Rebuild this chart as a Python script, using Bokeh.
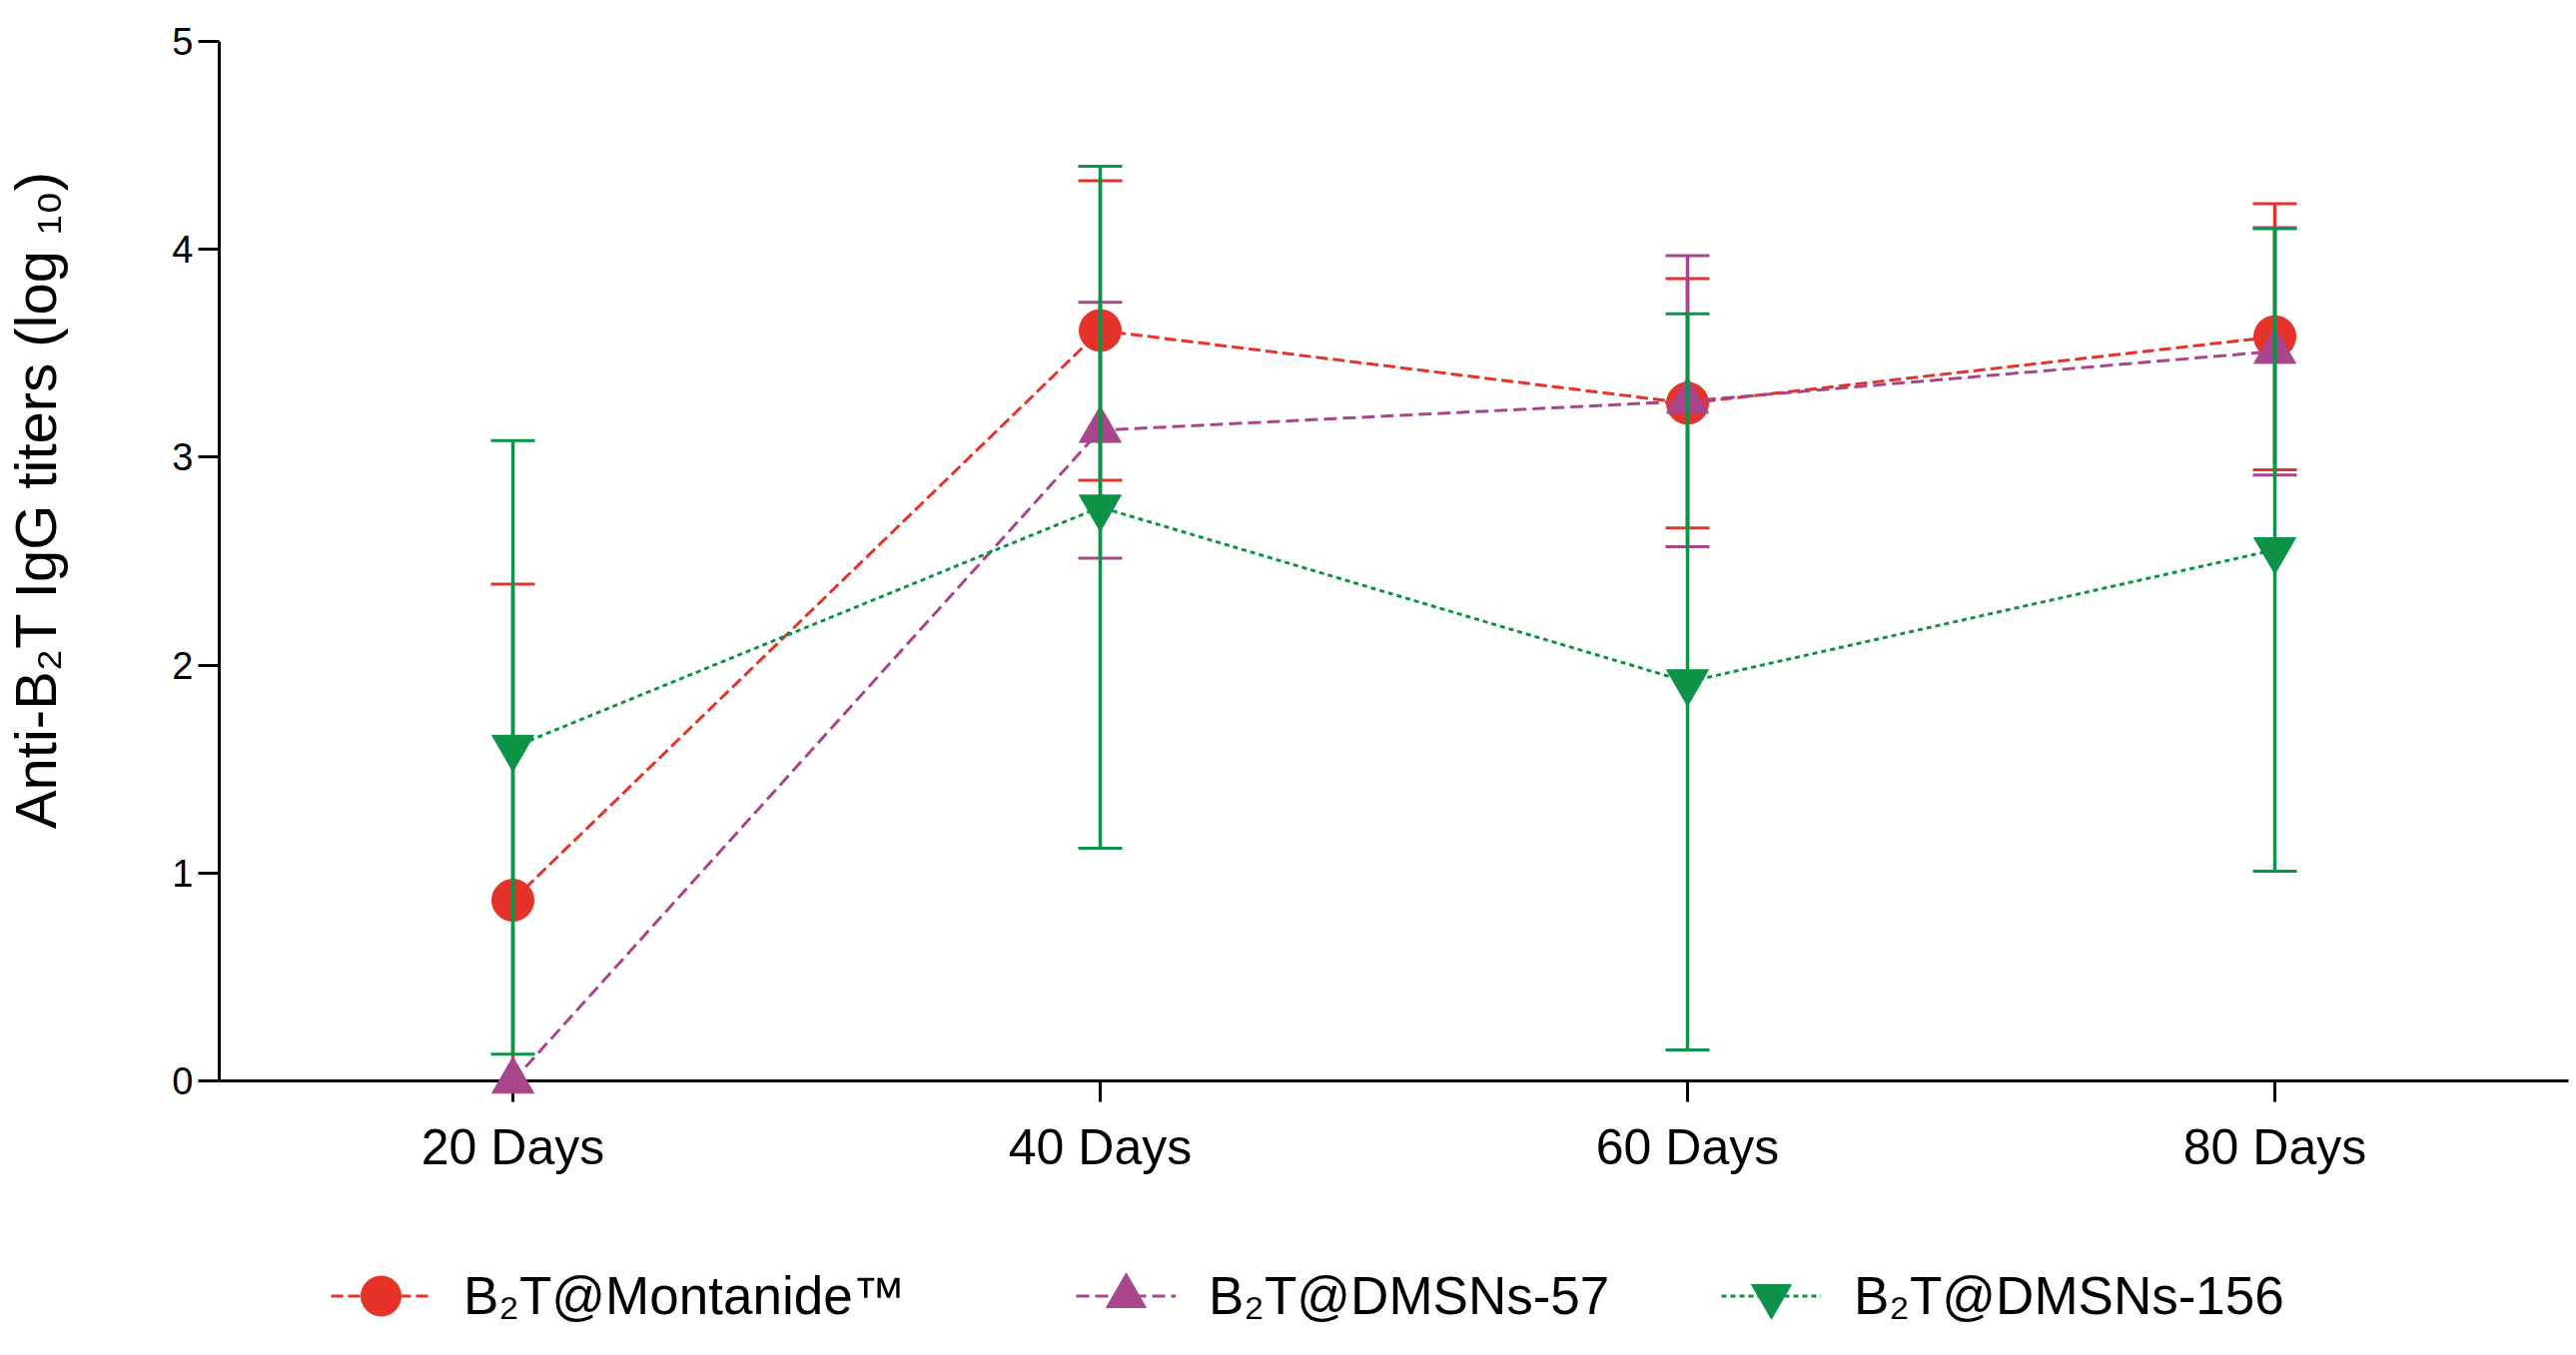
import math
from bokeh.plotting import figure
from bokeh.models import (Range1d, FixedTicker, Label, Legend, LegendItem)
from bokeh.embed import file_html
from bokeh.resources import INLINE

# ---------------- data ----------------
days = ["20 Days", "40 Days", "60 Days", "80 Days"]
series_names = ["B\u2082T@Montanide\u2122", "B\u2082T@DMSNs-57", "B\u2082T@DMSNs-156"]

montanide_mean = [0.87, 3.61, 3.26, 3.58]
montanide_err = [1.52, 0.72, 0.60, 0.64]

dmsn57_mean = [0.0, 3.13, 3.27, 3.51]
dmsn57_err = [float("nan"), 0.615, 0.70, 0.595]

dmsn156_mean = [1.605, 2.76, 1.92, 2.555]
dmsn156_err = [1.475, 1.64, 1.77, 1.545]

y_ticks = [0, 1, 2, 3, 4, 5]
y_title = "Anti-B\u2082T IgG titers (log \u2081\u2080)"

# ---------------- styles / layout ----------------
RED = "#E5332A"
PURPLE = "#A8458B"
GREEN = "#0C9347"
FONT = "Liberation Sans"
W, H = 2579, 1357

# category positions on the x scale (one unit per category)
xpos = list(range(1, len(days) + 1))

p = figure(width=W, height=H,
           x_range=Range1d(0.12755, 4.5136), y_range=Range1d(-1.3196, 5.1969),
           output_backend="svg", toolbar_location=None,
           min_border_left=0, min_border_right=0, min_border_top=0, min_border_bottom=0)
p.title.visible = False
p.outline_line_color = None
p.grid.visible = False
p.background_fill_color = "white"

xa = p.xaxis[0]
xa.fixed_location = 0
xa.bounds = (0.5, 4.5)
xa.level = "underlay"
xa.ticker = FixedTicker(ticks=xpos)
xa.major_label_overrides = {x: d for x, d in zip(xpos, days)}
xa.axis_line_width = 3
xa.major_tick_in = 0
xa.major_tick_out = 21
xa.major_tick_line_width = 3
xa.minor_tick_line_color = None
xa.major_label_text_font = FONT
xa.major_label_text_font_size = "50px"
xa.major_label_text_color = "black"
xa.major_label_standoff = 17

ya = p.yaxis[0]
ya.fixed_location = 0.5
ya.bounds = (0, 5)
ya.level = "underlay"
ya.ticker = FixedTicker(ticks=y_ticks)
ya.axis_line_width = 3
ya.major_tick_out = 21
ya.major_tick_in = 0
ya.major_tick_line_width = 3
ya.minor_tick_line_color = None
ya.major_label_text_font = FONT
ya.major_label_text_font_size = "38px"
ya.major_label_text_color = "black"
ya.major_label_standoff = 5

# y title
p.add_layout(Label(x=35, y=H - 500, x_units="screen", y_units="screen",
                   text=y_title, angle=math.pi / 2,
                   text_align="center", text_baseline="alphabetic",
                   text_font=FONT, text_font_size="58px", text_color="black"))


def error_bars(mean, err, color):
    # bars are truncated at the x axis (log titers cannot go below 0)
    lo_raw = [m - e for m, e in zip(mean, err)]
    lo = [max(v, 0.0) for v in lo_raw]
    lo_cap = [v if v >= 0 else float("nan") for v in lo_raw]
    hi = [m + e for m, e in zip(mean, err)]
    p.segment(x0=xpos, y0=lo, x1=xpos, y1=hi, line_color=color, line_width=3.5)
    p.scatter(x=xpos, y=lo_cap, marker="dash", size=44, line_color=color, line_width=3)
    p.scatter(x=xpos, y=hi, marker="dash", size=44, line_color=color, line_width=3)


error_bars(montanide_mean, montanide_err, RED)
l_red = p.line(xpos, montanide_mean, line_color=RED, line_width=3, line_dash="12 5")
s_red = p.scatter(xpos, montanide_mean, marker="circle", size=42,
                  fill_color=RED, line_color=RED)

error_bars(dmsn57_mean, dmsn57_err, PURPLE)
l_pur = p.line(xpos, dmsn57_mean, line_color=PURPLE, line_width=3, line_dash="13 6")
s_pur = p.scatter(xpos, dmsn57_mean, marker="triangle", size=42,
                  fill_color=PURPLE, line_color=PURPLE)

l_grn = p.line(xpos, dmsn156_mean, line_color=GREEN, line_width=3, line_dash="5 4")
s_grn = p.scatter(xpos, dmsn156_mean, marker="inverted_triangle", size=42,
                  fill_color=GREEN, line_color=GREEN)
error_bars(dmsn156_mean, dmsn156_err, GREEN)

# legend: one box per series, laid out in a row below the plot
legend_left = [331, 1077, 1723]
legend_renderers = [[l_red, s_red], [l_pur, s_pur], [l_grn, s_grn]]
for name, rends, lx in zip(series_names, legend_renderers, legend_left):
    lg = Legend(items=[LegendItem(label=name, renderers=rends)],
                location=(lx, 7), orientation="horizontal",
                glyph_width=100, glyph_height=105, label_standoff=33,
                padding=0, margin=0, spacing=0,
                border_line_color=None, background_fill_alpha=0,
                label_text_font=FONT, label_text_font_size="53px",
                label_text_color="black")
    p.add_layout(lg, "center")

open("out.html", "w").write(file_html(p, INLINE))
